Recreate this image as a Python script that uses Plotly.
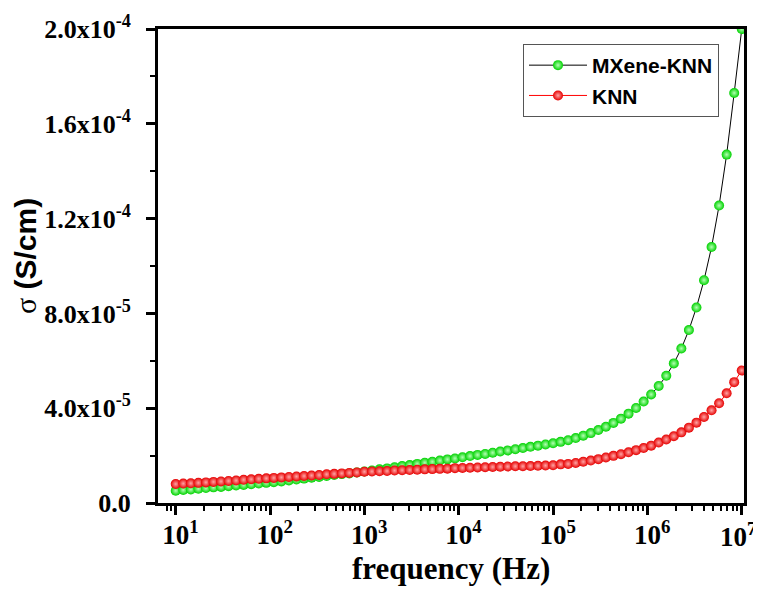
import plotly.graph_objects as go

# ---------------- data ----------------
freq_hz = [10, 12.02, 14.45, 17.38, 20.89, 25.12, 30.2, 36.31, 43.65, 52.48, 63.1, 75.86, 91.2,
           109.6, 131.8, 158.5, 190.5, 229.1, 275.4, 331.1, 398.1, 478.6, 575.4, 691.8, 831.8,
           1000, 1202, 1445, 1738, 2089, 2512, 3020, 3631, 4365, 5248, 6310, 7586, 9120,
           10960, 13180, 15850, 19050, 22910, 27540, 33110, 39810, 47860, 57540, 69180, 83180,
           1.0e5, 1.202e5, 1.445e5, 1.738e5, 2.089e5, 2.512e5, 3.020e5, 3.631e5, 4.365e5,
           5.248e5, 6.310e5, 7.586e5, 9.120e5, 1.096e6, 1.318e6, 1.585e6, 1.905e6, 2.291e6,
           2.754e6, 3.311e6, 3.981e6, 4.786e6, 5.754e6, 6.918e6, 8.318e6, 1.0e7]

# conductivity in micro-S/cm (x1e-6 S/cm)
mxene_knn_uS = [5.2, 5.5, 5.7, 6.0, 6.3, 6.6, 6.8, 7.1, 7.4, 7.6, 7.9, 8.2, 8.5,
                8.8, 9.1, 9.5, 9.9, 10.3, 10.7, 11.0, 11.4, 11.8, 12.2, 12.5, 12.9,
                13.3, 13.7, 14.2, 14.6, 15.1, 15.6, 16.0, 16.5, 17.0, 17.4, 17.9, 18.4, 18.8,
                19.3, 19.8, 20.3, 20.7, 21.2, 21.7, 22.2, 22.7, 23.2, 23.7, 24.2, 24.7,
                25.2, 25.8, 26.5, 27.4, 28.4, 29.5, 30.8, 32.2, 33.8, 35.6,
                37.7, 40.1, 42.8, 45.8, 49.4, 53.7, 58.9, 65.2, 73.0, 82.5,
                94.0, 108.0, 125.5, 147.0, 173.0, 200.0]

knn_uS = [8.0, 8.2, 8.3, 8.5, 8.7, 8.9, 9.1, 9.3, 9.5, 9.8, 10.0, 10.2, 10.4,
          10.6, 10.8, 11.0, 11.2, 11.4, 11.6, 11.8, 12.1, 12.3, 12.5, 12.7, 12.9,
          13.2, 13.3, 13.4, 13.5, 13.7, 13.8, 13.9, 14.0, 14.2, 14.3, 14.4, 14.5, 14.7,
          14.8, 14.9, 15.0, 15.1, 15.2, 15.3, 15.4, 15.5, 15.5, 15.6, 15.7, 15.8,
          15.9, 16.3, 16.5, 16.9, 17.4, 17.9, 18.5, 19.2, 19.9, 20.6,
          21.4, 22.3, 23.2, 24.2, 25.5, 26.8, 28.2, 29.8, 31.8, 33.9,
          36.3, 39.1, 42.1, 46.3, 51.0, 55.9]

series_names = ["MXene-KNN", "KNN"]

x_tick_vals = [1e1, 1e2, 1e3, 1e4, 1e5, 1e6, 1e7]
x_tick_exps = ["1", "2", "3", "4", "5", "6", "7"]
y_tick_vals = [0, 4e-5, 8e-5, 1.2e-4, 1.6e-4, 2.0e-4]
y_tick_text = ["0.0", "4.0x10<sup>-5</sup>", "8.0x10<sup>-5</sup>", "1.2x10<sup>-4</sup>",
               "1.6x10<sup>-4</sup>", "2.0x10<sup>-4</sup>"]
y_minor_vals = [2e-5, 6e-5, 1.0e-4, 1.4e-4, 1.8e-4]
x_minor_vals = [m * 10 ** d for d in range(0, 7) for m in range(2, 10) if 7.5 <= m * 10 ** d <= 1e7]

# labels centred on the "10" (an invisible superscript on the left balances the exponent);
# the last label sits at the page edge, so it is drawn as a right-anchored annotation
GHOST = "<span style='fill:rgba(0,0,0,0)'><sup>%s</sup></span>"
x_tick_text = [(GHOST % e) + "10<sup>%s</sup>" % e for e in x_tick_exps[:-1]] + [""]
last_x_label = "<b>10<sup>%s</sup></b>" % x_tick_exps[-1]

# ---------------- figure ----------------
to_S = lambda arr: [v * 1e-6 for v in arr]

fig = go.Figure()
fig.add_trace(go.Scatter(
    x=freq_hz, y=to_S(mxene_knn_uS), name=series_names[0], mode="lines+markers",
    line=dict(color="black", width=1),
    marker=dict(size=10, color="#00d200",
                gradient=dict(type="radial", color="#b4ffb4"),
                line=dict(width=0)),
))
fig.add_trace(go.Scatter(
    x=freq_hz, y=to_S(knn_uS), name=series_names[1], mode="lines+markers",
    line=dict(color="#ff0000", width=1),
    marker=dict(size=10, color="#e60000",
                gradient=dict(type="radial", color="#ffa4a4"),
                line=dict(width=0)),
))

# page has an 8px body margin; compensate so plot box lands at page coords
OFF = 8
PL, PR, PT, PB = 158, 744, 29, 503          # plot box in page pixels
W, H = 761 - OFF, 590 - OFF
L, T = PL - OFF, PT - OFF
R, B = 761 - PR, 590 - PB
pw, ph = PR - PL, PB - PT

def px(xp):
    return (xp - PL) / pw

def py(yp):
    return (PB - yp) / ph

axis_common = dict(
    showline=True, linecolor="black", linewidth=3, mirror=True,
    ticks="outside", ticklen=9, tickwidth=2.5, tickcolor="black",
    showgrid=False, zeroline=False,
)

XFONT = dict(family="Liberation Serif", size=27, color="black", weight="bold")

fig.update_xaxes(
    type="log", range=[0.812, 7.024],
    tickmode="array", tickvals=x_tick_vals, ticktext=x_tick_text,
    tickfont=XFONT,
    ticklabeloverflow="allow", ticklabelstandoff=-3,
    minor=dict(tickmode="array", tickvals=x_minor_vals, ticks="outside",
               ticklen=5, tickwidth=2, tickcolor="black", showgrid=False),
    **axis_common,
)
fig.update_yaxes(
    range=[0, 2.0e-4],
    tickmode="array", tickvals=y_tick_vals, ticktext=y_tick_text,
    tickfont=dict(family="Liberation Serif", size=26, color="black", weight="bold"),
    ticklabeloverflow="allow", ticklabelstandoff=10,
    minor=dict(tickmode="array", tickvals=y_minor_vals, ticks="outside",
               ticklen=5, tickwidth=2, tickcolor="black", showgrid=False),
    **axis_common,
)

fig.add_annotation(
    xref="paper", yref="paper", x=px(757), y=py(517),
    text=last_x_label, showarrow=False, xanchor="right", yanchor="top",
    font=dict(family="Liberation Serif", size=27, color="black"),
    borderpad=0,
)
fig.add_annotation(
    xref="paper", yref="paper", x=px(25), y=py(256),
    text="<span style='font-family:Liberation Serif;font-weight:normal'>σ</span> <b>(S/cm)</b>",
    textangle=-90, showarrow=False, xanchor="center", yanchor="middle",
    font=dict(family="Liberation Sans", size=30, color="black"),
)
fig.add_annotation(
    xref="paper", yref="paper", x=px(451), y=py(568),
    text="<b>frequency (Hz)</b>", showarrow=False, xanchor="center", yanchor="middle",
    font=dict(family="Liberation Serif", size=31, color="black"),
)

fig.update_layout(
    width=W, height=H,
    margin=dict(l=L, r=R, t=T, b=B, autoexpand=False),
    paper_bgcolor="white", plot_bgcolor="white",
    showlegend=True,
    legend=dict(
        x=px(523), y=py(44), xanchor="left", yanchor="top",
        bgcolor="white", bordercolor="#555555", borderwidth=1,
        font=dict(family="Liberation Sans", size=21, color="black", weight="bold"),
        itemwidth=58, tracegroupgap=0,
    ),
)

fig.write_html("out.html")
